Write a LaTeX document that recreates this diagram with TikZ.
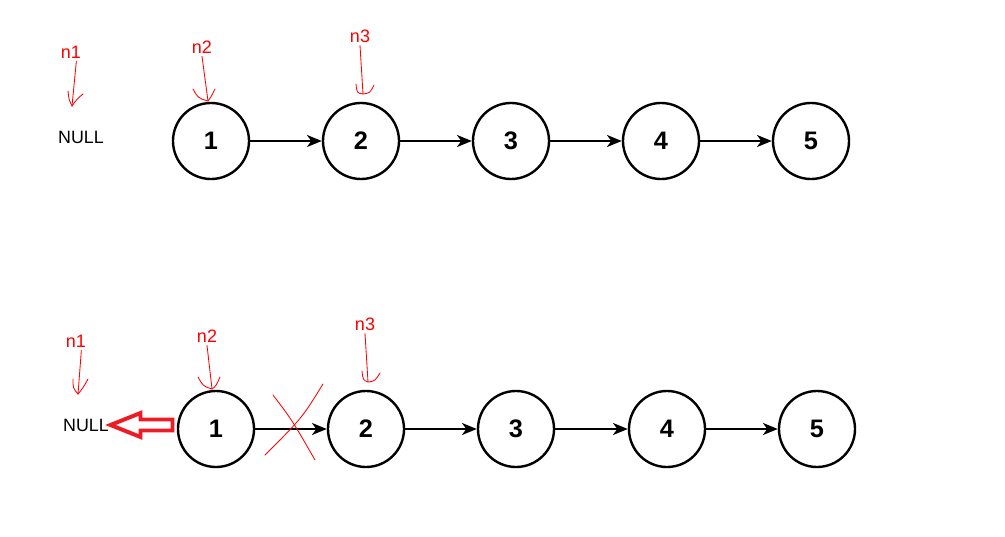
\documentclass[tikz,border=0pt]{standalone}
\usepackage{fontspec}
\setmainfont{Liberation Sans}
\usetikzlibrary{arrows.meta}
\definecolor{pen}{RGB}{255,0,0}
\definecolor{mark}{RGB}{237,28,36}

\begin{document}
\begin{tikzpicture}[x=0.025cm,y=-0.025cm,
  elem/.style={circle,draw,line width=1.7pt,minimum size=1.9cm,inner sep=0pt,font=\fontsize{18}{20}\selectfont\bfseries},
  nul/.style={inner sep=1pt,font=\fontsize{12.7}{14}\selectfont},
  ptr/.style={inner sep=2pt,text=pen,font=\fontsize{12.8}{14}\selectfont},
  hand/.style={draw=pen,line width=0.6pt,line cap=round},
  link/.style={->,>={Stealth[length=10.5pt,width=8.5pt,inset=3pt]},line width=1.6pt}]
\useasboundingbox (0,0) rectangle (1005,537);

\node[elem] (A) at (211,141) {1};
\node[elem] (B) at (361,141) {2};
\node[elem] (C) at (511,141) {3};
\node[elem] (D) at (661,141) {4};
\node[elem] (E) at (811,141) {5};
\node[nul] (NA) at (81,137) {NULL};

\path[link] (A) edge (B);
\path[link] (B) edge (C);
\path[link] (C) edge (D);
\path[link] (D) edge (E);

\node[ptr] (PA1) at (71,52) {n1};
\node[ptr] (PA2) at (202,47) {n2};
\node[ptr] (PA3) at (360,36) {n3};
\coordinate (TA1) at (72,106);
\coordinate (TA2) at (208,101);
\coordinate (TA3) at (363,94);
\draw[hand] (PA1.-60) -- (TA1);
\draw[hand] (68,91) .. controls (69,100) .. (TA1) .. controls (77,99) .. (83,94);
\draw[hand] (PA2.south) -- (TA2);
\draw[hand] (193,89) .. controls (198,98) .. (TA2) .. controls (211,97) .. (215,89);
\draw[hand] (PA3.south) -- (TA3);
\draw[hand] (356,84) .. controls (357,93) .. (TA3) .. controls (370,93) .. (374,85);

\node[elem] (F) at (216,429) {1};
\node[elem] (G) at (366,429) {2};
\node[elem] (H) at (516,429) {3};
\node[elem] (I) at (667,429) {4};
\node[elem] (J) at (817,429) {5};
\node[nul] (NB) at (86,425) {NULL};

\path[link] (F) edge (G);
\path[link] (G) edge (H);
\path[link] (H) edge (I);
\path[link] (I) edge (J);

\node[ptr] (PB1) at (76,341) {n1};
\node[ptr] (PB2) at (207,336) {n2};
\node[ptr] (PB3) at (365,324) {n3};
\coordinate (TB1) at (78,394);
\coordinate (TB2) at (212,389);
\coordinate (TB3) at (368,382);
\draw[hand] (PB1.-60) -- (TB1);
\draw[hand] (73,379) .. controls (73,388) .. (TB1) .. controls (83,388) .. (88,379);
\draw[hand] (PB2.south) -- (TB2);
\draw[hand] (198,377) .. controls (203,386) .. (TB2) .. controls (216,386) .. (220,377);
\draw[hand] (PB3.south) -- (TB3);
\draw[hand] (362,371) .. controls (363,380) .. (TB3) .. controls (375,381) .. (380,373);

% hollow arrow back to NULL
\draw[draw=mark,line width=2.8pt,line join=miter] (NB.east) -- ++(30,-12) -- ++(0,6.5) -- ++(32,0)
  -- ++(0,11) -- ++(-32,0) -- ++(0,6.5) -- cycle;

% cross on the old link
\draw[hand] (273,395) .. controls (292,420) .. (315,460);
\draw[hand] (323,384) .. controls (302,418) .. (265,455);

\end{tikzpicture}
\end{document}
